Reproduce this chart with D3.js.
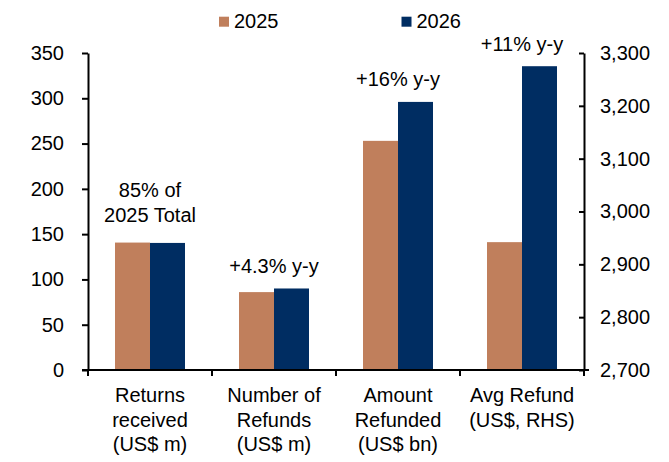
<!DOCTYPE html>
<html>
<head>
<meta charset="utf-8">
<script src="https://cdn.jsdelivr.net/npm/d3@7"></script>
<style>
  html, body { margin: 0; padding: 0; background: #fff; }
  svg { display: block; font-family: "Liberation Sans", Arial, sans-serif; }
</style>
</head>
<body>
<svg id="chart" width="669" height="462"></svg>
<script>
// ---- data ----
const categories = [
  ["Returns", "received", "(US$ m)"],
  ["Number of", "Refunds", "(US$ m)"],
  ["Amount", "Refunded", "(US$ bn)"],
  ["Avg Refund", "(US$, RHS)"]
];
const seriesNames = ["2025", "2026"];
const values2025 = [140.7, 86, 253, 2942];
const values2026 = [140.3, 90, 296, 3275];
const axisSide = ["left", "left", "left", "right"];
const annotations = [
  ["85% of", "2025 Total"],
  ["+4.3% y-y"],
  ["+16% y-y"],
  ["+11% y-y"]
];
const leftTicks = [0, 50, 100, 150, 200, 250, 300, 350];
const rightTicks = [2700, 2800, 2900, 3000, 3100, 3200, 3300];

// ---- layout / style ----
const colors = ["#C07F5C", "#002D62"];
const plot = { left: 88, right: 584, top: 53, bottom: 370 };
const fontSize = 20;

const svg = d3.select("#chart");

const x = d3.scaleBand()
  .domain(d3.range(categories.length))
  .range([plot.left, plot.right])
  .paddingInner(0).paddingOuter(0);

const barW = 35;
const xs = d3.scaleBand()
  .domain(seriesNames)
  .range([-barW, barW])
  .padding(0);

const yL = d3.scaleLinear().domain([0, 350]).range([plot.bottom, plot.top]);
const yR = d3.scaleLinear().domain([2700, 3300]).range([plot.bottom, plot.top]);
const yFor = i => axisSide[i] === "right" ? yR : yL;

// ---- bars ----
const seriesValues = [values2025, values2026];
seriesNames.forEach((name, s) => {
  svg.append("g").selectAll("rect")
    .data(seriesValues[s])
    .join("rect")
    .attr("x", (d, i) => x(i) + x.bandwidth() / 2 + xs(name))
    .attr("width", xs.bandwidth())
    .attr("y", (d, i) => yFor(i)(d))
    .attr("height", (d, i) => yFor(i).range()[0] - yFor(i)(d))
    .attr("fill", colors[s]);
});

// ---- axes ----
const styleAxis = g => {
  g.selectAll("path, line").attr("stroke", "#000").attr("stroke-width", 2);
  g.selectAll("text").attr("fill", "#000").attr("font-size", fontSize)
    .attr("font-family", "Liberation Sans, Arial, sans-serif");
};

svg.append("g")
  .attr("transform", `translate(${plot.left},0)`)
  .call(d3.axisLeft(yL).tickValues(leftTicks).tickSize(6).tickSizeOuter(0).tickPadding(18))
  .call(styleAxis);

svg.append("g")
  .attr("transform", `translate(${plot.right},0)`)
  .call(d3.axisRight(yR).tickValues(rightTicks).tickSize(-5).tickSizeOuter(0).tickPadding(16)
        .tickFormat(d3.format(",")))
  .call(styleAxis);

// x axis baseline and boundary ticks
const xAxisG = svg.append("g");
xAxisG.append("line")
  .attr("x1", plot.left - 6).attr("x2", plot.right + 5)
  .attr("y1", plot.bottom).attr("y2", plot.bottom)
  .attr("stroke", "#000").attr("stroke-width", 2);
const boundaries = d3.range(categories.length + 1).map(i => i < categories.length ? x(i) : x(i - 1) + x.bandwidth());
xAxisG.selectAll("line.tick")
  .data(boundaries)
  .join("line")
  .attr("class", "tick")
  .attr("x1", d => d).attr("x2", d => d)
  .attr("y1", plot.bottom).attr("y2", plot.bottom + 6)
  .attr("stroke", "#000").attr("stroke-width", 2);

// category labels
const catG = svg.append("g")
  .attr("font-size", fontSize).attr("fill", "#000").attr("text-anchor", "middle");
categories.forEach((lines, i) => {
  const t = catG.append("text")
    .attr("x", x(i) + x.bandwidth() / 2)
    .attr("y", 402);
  lines.forEach((ln, k) => {
    t.append("tspan")
      .attr("x", x(i) + x.bandwidth() / 2)
      .attr("dy", k === 0 ? 0 : 24.5)
      .text(ln);
  });
});

// annotations above bars
const annG = svg.append("g")
  .attr("font-size", fontSize).attr("fill", "#000").attr("text-anchor", "middle");
annotations.forEach((lines, i) => {
  const top = Math.min(yFor(i)(values2025[i]), yFor(i)(values2026[i]));
  const gap = lines.length > 1 ? 21 : 15.5;
  const lastBase = top - gap;
  lines.forEach((ln, k) => {
    annG.append("text")
      .attr("x", x(i) + x.bandwidth() / 2)
      .attr("y", lastBase - (lines.length - 1 - k) * 24.4)
      .text(ln);
  });
});

// legend
const legendX = [219, 401.5];
const leg = svg.append("g");
seriesNames.forEach((name, s) => {
  leg.append("rect")
    .attr("x", legendX[s]).attr("y", 16.7)
    .attr("width", 10).attr("height", 10)
    .attr("fill", colors[s]);
  leg.append("text")
    .attr("x", legendX[s] + 15).attr("y", 27.8)
    .attr("font-size", fontSize).attr("fill", "#000")
    .text(name);
});
</script>
</body>
</html>
